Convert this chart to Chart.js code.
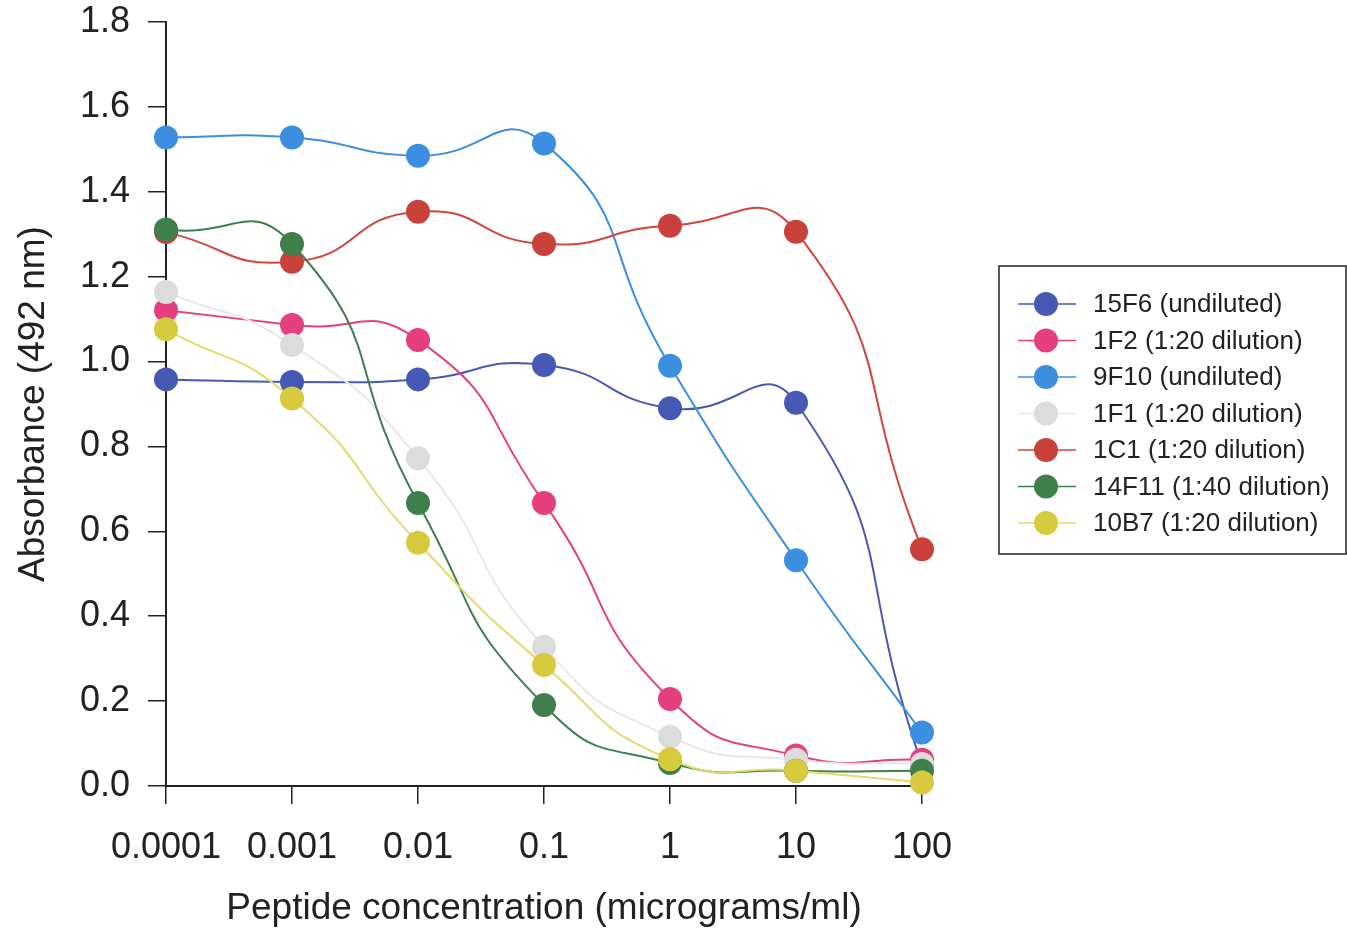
<!DOCTYPE html>
<html>
<head>
<meta charset="utf-8">
<script src="https://cdn.jsdelivr.net/npm/chart.js@4"></script>
<style>
  html, body { margin:0; padding:0; background:#fff; }
  #wrap { width:1347px; height:931px; }
</style>
</head>
<body>
<div id="wrap"><canvas id="c" width="1347" height="931"></canvas></div>
<script>
const concentrations = ['0.0001','0.001','0.01','0.1','1','10','100'];
const yTicks = [0, 0.2, 0.4, 0.6, 0.8, 1.0, 1.2, 1.4, 1.6, 1.8];

const s15F6  = [0.958, 0.952, 0.958, 0.992, 0.890, 0.903, 0.050];
const s1F2   = [1.121, 1.086, 1.051, 0.667, 0.205, 0.072, 0.062];
const s9F10  = [1.528, 1.528, 1.485, 1.514, 0.990, 0.532, 0.126];
const s1F1   = [1.164, 1.039, 0.772, 0.328, 0.116, 0.062, 0.052];
const s1C1   = [1.305, 1.235, 1.353, 1.277, 1.320, 1.306, 0.558];
const s14F11 = [1.311, 1.277, 0.667, 0.191, 0.054, 0.036, 0.036];
const s10B7  = [1.076, 0.913, 0.573, 0.285, 0.063, 0.036, 0.008];

const names = ['15F6 (undiluted)','1F2 (1:20 dilution)','9F10 (undiluted)','1F1 (1:20 dilution)',
  '1C1 (1:20 dilution)','14F11 (1:40 dilution)','10B7 (1:20 dilution)'];
const series = [s15F6, s1F2, s9F10, s1F1, s1C1, s14F11, s10B7];
const dotColors  = ['#4659b5','#e53f80','#3c8fe0','#dcdcdc','#c9413a','#3f7f4b','#d7ca3e'];
const lineColors = ['#4659b5','#e53f80','#3c8fe0','#e8e8e8','#d0453e','#3f7f4b','#e4d96a'];

const FONT = "'Liberation Sans', Arial, sans-serif";
const INK = '#222';

// legend box with a line through each marker, like the original plot software
const boxLegend = {
  id: 'boxLegend',
  afterDraw(chart) {
    const ctx = chart.ctx;
    ctx.save();
    ctx.strokeStyle = INK; ctx.lineWidth = 1.5;
    ctx.strokeRect(999, 266, 347, 288);
    ctx.font = `26px ${FONT}`;
    ctx.textBaseline = 'middle';
    ctx.fillStyle = INK;
    chart.data.datasets.forEach((ds, i) => {
      const y = 304 + i * 36.5;
      ctx.strokeStyle = ds.borderColor; ctx.lineWidth = 1.5;
      ctx.beginPath(); ctx.moveTo(1018, y); ctx.lineTo(1076, y); ctx.stroke();
      ctx.fillStyle = ds.pointBackgroundColor;
      ctx.beginPath(); ctx.arc(1046, y, 12, 0, Math.PI * 2); ctx.fill();
      ctx.fillStyle = INK;
      ctx.fillText(ds.label, 1093, y + 1);
    });
    ctx.restore();
  }
};

new Chart(document.getElementById('c'), {
  type: 'line',
  data: {
    labels: concentrations,
    datasets: series.map((d, i) => ({
      label: names[i], data: d,
      borderColor: lineColors[i], borderWidth: 2,
      pointBackgroundColor: dotColors[i], pointBorderWidth: 0, pointRadius: 12,
      tension: 0.55, clip: false, order: series.length - 1 - i
    }))
  },
  options: {
    responsive: false, animation: false,
    layout: { padding: { left: 0, right: 425, top: 22, bottom: 0 } },
    plugins: { legend: { display: false }, tooltip: { enabled: false } },
    scales: {
      x: {
        type: 'category', offset: false,
        grid: { drawOnChartArea: false, tickLength: 18, color: INK, lineWidth: 1.5 },
        border: { color: INK, width: 2 },
        ticks: { color: INK, font: { family: FONT, size: 36 }, padding: 22, maxRotation: 0, autoSkip: false },
        title: { display: true, text: 'Peptide concentration (micrograms/ml)', color: INK,
          font: { family: FONT, size: 37 }, padding: { top: 0, bottom: 0 } },
        afterFit: s => { s.height = 145; s.paddingLeft = 0; s.paddingRight = 0; }
      },
      y: {
        min: 0, max: 1.8,
        afterBuildTicks: s => { s.ticks = yTicks.map(v => ({ value: v })); },
        grid: { drawOnChartArea: false, tickLength: 18, color: INK, lineWidth: 1.5 },
        border: { color: INK, width: 2 },
        ticks: { color: INK, font: { family: FONT, size: 36 }, padding: 18, callback: v => v.toFixed(1) },
        title: { display: true, text: 'Absorbance (492 nm)', color: INK,
          font: { family: FONT, size: 37 }, padding: { top: 12, bottom: 0 } },
        afterFit: s => { s.width = 166; s.paddingTop = 0; s.paddingBottom = 0; }
      }
    }
  },
  plugins: [boxLegend]
});
</script>
</body>
</html>
